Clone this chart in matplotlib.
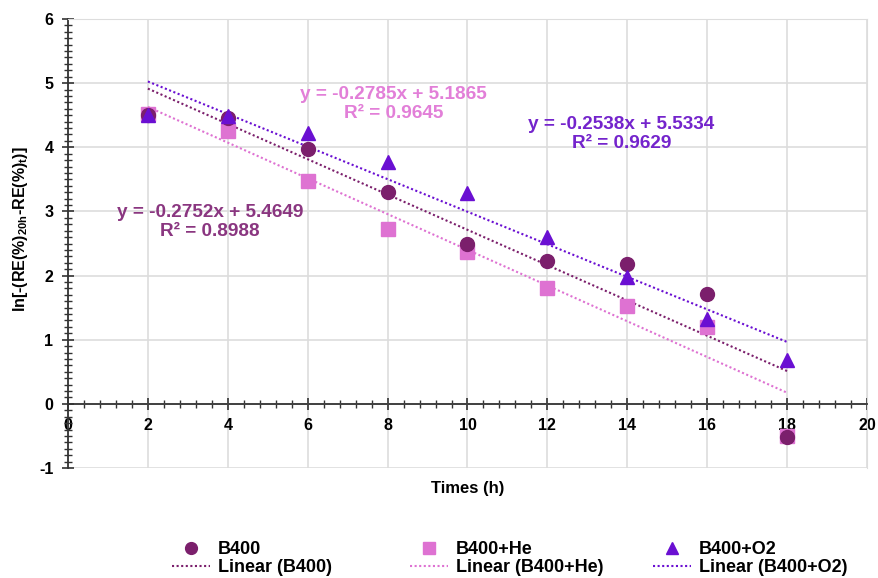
import matplotlib
matplotlib.use("Agg")
import matplotlib.pyplot as plt
import numpy as np
from matplotlib.ticker import MultipleLocator

plt.rcParams['font.family'] = ['Liberation Sans', 'DejaVu Sans']
plt.rcParams['font.weight'] = 'bold'
plt.rcParams['axes.unicode_minus'] = False
plt.rcParams['mathtext.fontset'] = 'custom'
plt.rcParams['mathtext.rm'] = 'Liberation Sans:bold'
plt.rcParams['mathtext.it'] = 'Liberation Sans:bold'
plt.rcParams['mathtext.bf'] = 'Liberation Sans:bold'

# data
times = [2, 4, 6, 8, 10, 12, 14, 16, 18]
b400 = [4.50, 4.45, 3.97, 3.30, 2.50, 2.23, 2.18, 1.72, -0.52]
b400_he = [4.52, 4.25, 3.48, 2.73, 2.37, 1.80, 1.53, 1.20, -0.50]
b400_o2 = [4.50, 4.48, 4.22, 3.77, 3.28, 2.60, 1.98, 1.33, 0.68]

# trendline coefficients as printed on the chart
slopes = [-0.2752, -0.2785, -0.2538]
intercepts = [5.4649, 5.1865, 5.5334]
r2 = [0.8988, 0.9645, 0.9629]

names = ['B400', 'B400+He', 'B400+O2']
colors = ['#7b1f6c', '#de72d2', '#6a0fd2']
text_colors = ['#8a3680', '#e27fd8', '#7424cc']
markers = ['o', 's', '^']
zord = [4, 3, 5]
series = [b400, b400_he, b400_o2]

fig = plt.figure(figsize=(8.79, 5.78), dpi=100)
ax = fig.add_axes([68/879, 1-468/578, (867-68)/879, (468-19)/578])

handles = []
xs = np.array([min(times), max(times)])
for i in range(3):
    h, = ax.plot(times, series[i], linestyle='none', marker=markers[i],
                 color=colors[i], ms=10, zorder=zord[i])
    l, = ax.plot(xs, slopes[i] * xs + intercepts[i], linestyle=(0, (1, 1.2)),
                 color=colors[i], lw=1.5, zorder=2)
    handles.append((h, l))

ax.set_xlim(0, 20)
ax.set_ylim(-1, 6)
ax.xaxis.set_major_locator(MultipleLocator(2))
ax.xaxis.set_minor_locator(MultipleLocator(0.4))
ax.yaxis.set_major_locator(MultipleLocator(1))
ax.yaxis.set_minor_locator(MultipleLocator(0.1))
ax.grid(True, which='major', color='#dddddd', lw=1.2, zorder=0)

ax.spines['bottom'].set_position(('data', 0))
ax.spines['bottom'].set_color('#333333')
ax.spines['left'].set_color('#333333')
ax.spines['bottom'].set_linewidth(1.3)
ax.spines['left'].set_linewidth(1.3)
ax.spines['top'].set_color('#dddddd')
ax.spines['right'].set_color('#dddddd')

ax.tick_params(which='major', direction='inout', length=9, width=1.2,
               color='#333333', labelsize=11.5, pad=6)
ax.tick_params(which='minor', direction='inout', length=6, width=1.0,
               color='#333333')
for lab in ax.get_xticklabels() + ax.get_yticklabels():
    lab.set_fontweight('bold')

ax.set_xlabel('Times (h)', fontsize=12, fontweight='bold')
ax.xaxis.set_label_coords(0.5, -0.03)
ax.set_ylabel(r'ln[-(RE(%)$_{20h}$-RE(%)$_{t}$)]', fontsize=11.5,
              fontweight='bold')
ax.yaxis.set_label_coords(-0.047, 0.532)

# equation labels
eq_pos = [(3.55, 2.83), (8.15, 4.67), (13.85, 4.20)]
for i in range(3):
    ax.text(eq_pos[i][0], eq_pos[i][1],
            'y = %.4fx + %.4f\nR² = %.4f' % (slopes[i], intercepts[i], r2[i]),
            color=text_colors[i], fontsize=13.7, fontweight='bold',
            ha='center', va='center', linespacing=1.15, zorder=6)

# legend: one block per column, like the spreadsheet legend
col_x = [172, 410, 653]
for i in range(3):
    leg = fig.legend([handles[i][0], handles[i][1]],
                     [names[i], 'Linear (%s)' % names[i]],
                     loc='upper left', bbox_to_anchor=(col_x[i]/879, 1-541/578),
                     frameon=False, fontsize=13, handlelength=2.1,
                     handletextpad=0.45, labelspacing=0.05, borderpad=0,
                     borderaxespad=0, markerscale=0.85)
    for t in leg.get_texts():
        t.set_fontweight('bold')

fig.savefig('out.png', dpi=100)
